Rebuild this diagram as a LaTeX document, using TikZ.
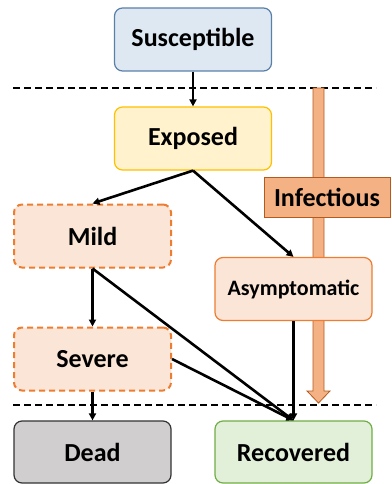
\documentclass[tikz,border=0pt]{standalone}
\usepackage{fontspec}
\setmainfont{Carlito}
\usetikzlibrary{arrows.meta}
\definecolor{suscFill}{HTML}{DEE8F3}
\definecolor{suscLine}{HTML}{5B80A8}
\definecolor{expFill}{HTML}{FFF2CC}
\definecolor{expLine}{HTML}{FFC000}
\definecolor{infFill}{HTML}{FBE5D6}
\definecolor{infLine}{HTML}{ED7D31}
\definecolor{barFill}{HTML}{F4B183}
\definecolor{barLine}{HTML}{B55A1E}
\definecolor{deadFill}{HTML}{D0CECE}
\definecolor{deadLine}{HTML}{333333}
\definecolor{recFill}{HTML}{E2F0D9}
\definecolor{recLine}{HTML}{70AD47}
\tikzset{
  state/.style={draw, rounded corners=8pt, line width=1.2pt, minimum width=157pt,
    minimum height=63pt, inner sep=0pt, font=\fontsize{26}{30}\selectfont\bfseries},
  dashedstate/.style={state, dashed, dash pattern=on 6pt off 4pt, line width=2pt},
  flow/.style={line width=2.6pt, -{Triangle[length=7pt,width=7pt]}},
  divider/.style={line width=1.6pt, dash pattern=on 7pt off 4pt},
}
\begin{document}
\begin{tikzpicture}[x=1pt, y=-1pt]
\useasboundingbox (0,0) rectangle (391,484);

% stage dividers
\draw[divider] (13,88) -- (376,88);
\draw[divider] (13,405) -- (376,405);

% infectious period bar
\filldraw[fill=barFill, draw=barLine, line width=0.8pt]
  (313,88) -- (324,88) -- (324,391) -- (330,391) -- (318.5,403)
  -- (307,391) -- (313,391) -- cycle;

% compartments
\node[state, fill=suscFill, draw=suscLine] (S) at (193,39.5) {Susceptible};
\node[state, fill=expFill, draw=expLine] (E) at (193,138.5) {Exposed};
\node[dashedstate, fill=infFill, draw=infLine] (M) at (92.5,236) {Mild};
\node[state, fill=infFill, draw=infLine, font=\fontsize{22}{26}\selectfont\bfseries] (A) at (293.5,289) {Asymptomatic};
\node[dashedstate, fill=infFill, draw=infLine] (V) at (92.5,359) {Severe};
\node[state, fill=deadFill, draw=deadLine, minimum height=62pt] (D) at (92.5,452) {Dead};
\node[state, fill=recFill, draw=recLine, minimum height=62pt] (R) at (293.5,452) {Recovered};

% label on the infectious bar
\node[draw=barLine, fill=barFill, line width=1pt, minimum width=126pt, minimum height=40pt,
  inner sep=0pt, font=\fontsize{26}{30}\selectfont\bfseries] (I) at (327,197) {Infectious};

% transitions
\draw[flow] (S.south) -- (E.north);
\draw[flow] (E.south) -- (M.north);
\draw[flow] (E.south) -- (A.north);
\draw[flow] (M.south) -- (V.north);
\draw[flow] (M.south) -- (R.north);
\draw[flow] (V.east) -- (R.north);
\draw[flow] (A.south) -- (R.north);
\draw[flow] (V.south) -- (D.north);
\end{tikzpicture}
\end{document}
